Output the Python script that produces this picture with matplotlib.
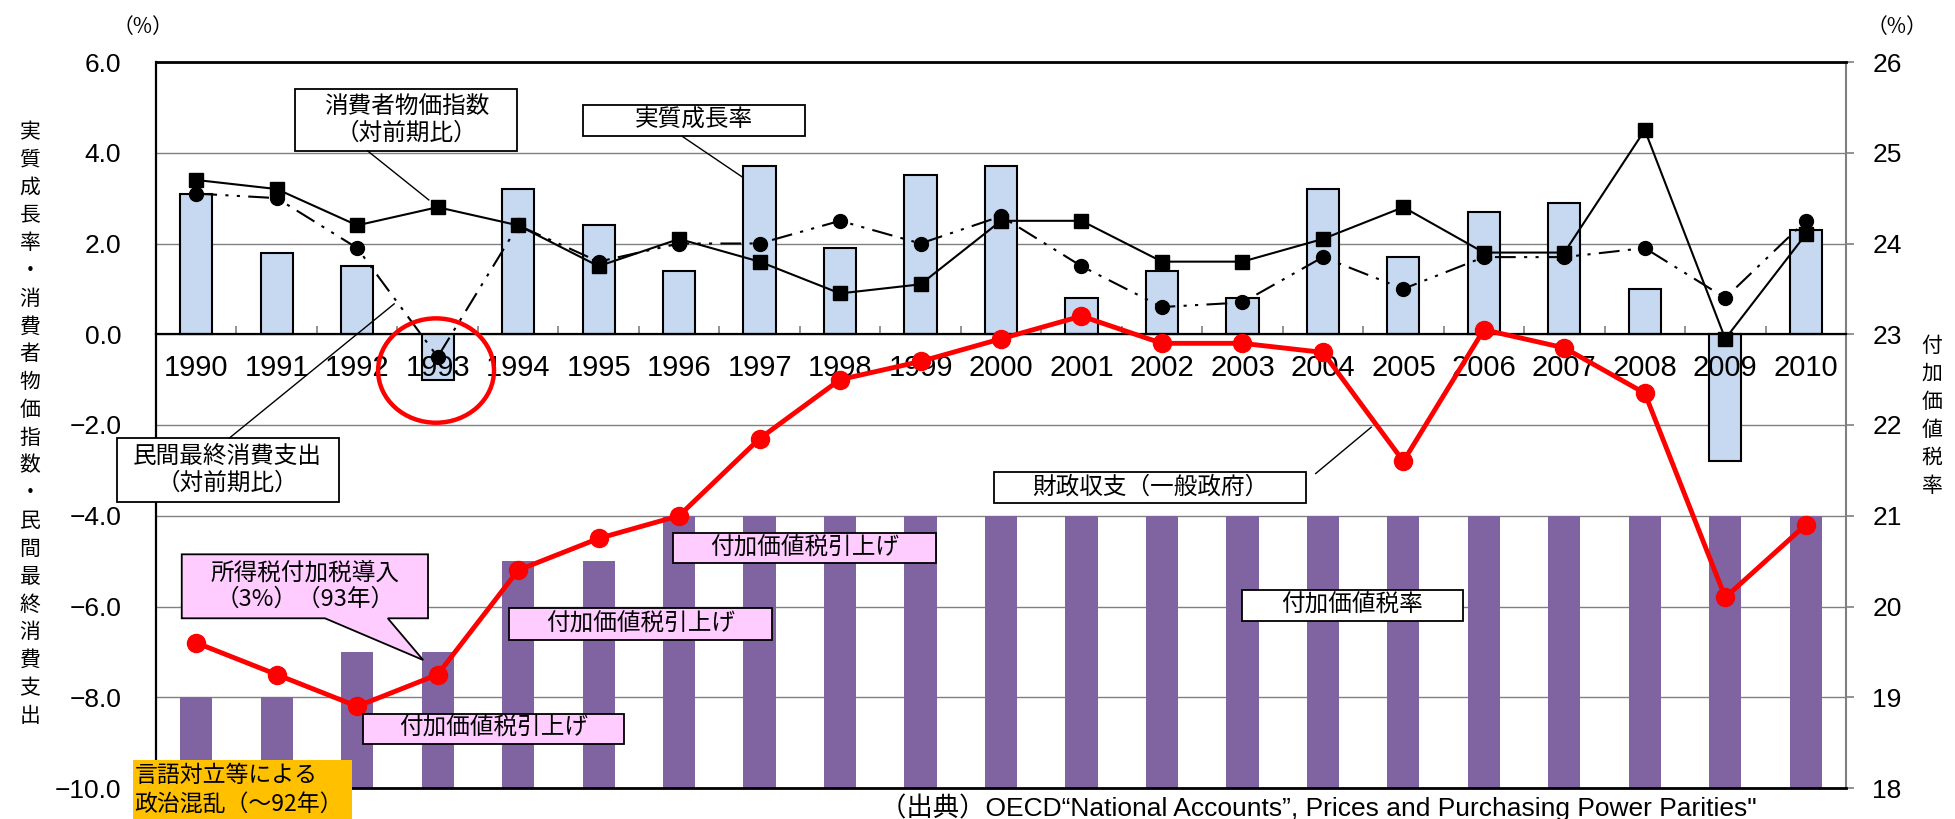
import matplotlib
matplotlib.use("Agg")
import matplotlib.pyplot as plt
import numpy as np
from matplotlib.patches import Rectangle, Polygon, Ellipse
from matplotlib.ticker import FuncFormatter

# ---- data (Belgium, 1990-2010, %) ----
years = list(range(1990, 2011))
real_growth = [3.1, 1.8, 1.5, -1.0, 3.2, 2.4, 1.4, 3.7, 1.9, 3.5, 3.7,
               0.8, 1.4, 0.8, 3.2, 1.7, 2.7, 2.9, 1.0, -2.8, 2.3]
cpi = [3.4, 3.2, 2.4, 2.8, 2.4, 1.5, 2.1, 1.6, 0.9, 1.1, 2.5,
       2.5, 1.6, 1.6, 2.1, 2.8, 1.8, 1.8, 4.5, -0.1, 2.2]
consumption = [3.1, 3.0, 1.9, -0.5, 2.4, 1.6, 2.0, 2.0, 2.5, 2.0, 2.6,
               1.5, 0.6, 0.7, 1.7, 1.0, 1.7, 1.7, 1.9, 0.8, 2.5]
fiscal_balance = [-6.8, -7.5, -8.2, -7.5, -5.2, -4.5, -4.0, -2.3, -1.0, -0.6, -0.1,
                  0.4, -0.2, -0.2, -0.4, -2.8, 0.1, -0.3, -1.3, -5.8, -4.2]
vat_rate = [19.0, 19.0, 19.5, 19.5, 20.5, 20.5, 21.0, 21.0, 21.0, 21.0, 21.0,
            21.0, 21.0, 21.0, 21.0, 21.0, 21.0, 21.0, 21.0, 21.0, 21.0]

left_ticks = [-10, -8, -6, -4, -2, 0, 2, 4, 6]
right_ticks = [18, 19, 20, 21, 22, 23, 24, 25, 26]

CJK = ["Noto Sans CJK JP", "DejaVu Sans"]
NARROW = ["Liberation Sans Narrow", "Liberation Sans", "Noto Sans CJK JP"]
LATIN = ["Liberation Sans", "DejaVu Sans"]

W, H = 1955, 819
fig = plt.figure(figsize=(W / 100, H / 100), dpi=100)
fig.patch.set_facecolor("white")


def fx(px):
    return px / W


def fy(py):
    return 1 - py / H


ax = fig.add_axes([fx(156), 31 / H, 1690 / W, 726 / H])
ax2 = ax.twinx()
ax.set_zorder(ax2.get_zorder() + 1)
ax.patch.set_visible(False)

x = np.arange(len(years))

# VAT rate bars on the right axis, behind everything else
ax2.bar(x, vat_rate, width=0.4, color="#8064A2", zorder=1)
ax2.set_ylim(18, 26)
ax2.set_yticks(right_ticks)
ax2.set_yticklabels([str(t) for t in right_ticks], fontsize=19, family=LATIN)
ax2.grid(axis="y", color="#808080", lw=1.0)
ax2.set_axisbelow(True)
ax2.tick_params(axis="y", direction="out", length=6, width=1.2, color="#808080", pad=13)

# real growth bars and the two rate lines on the left axis
ax.bar(x, real_growth, width=0.4, color="#C6D9F1", edgecolor="black", linewidth=1.5, zorder=1)
ax.plot(x, cpi, color="black", lw=1.5, marker="s", ms=10, zorder=3)
ax.plot(x, consumption, color="black", lw=1.5, ls=(0, (10, 4, 1.5, 4, 1.5, 4)),
        marker="o", ms=10, zorder=3)
ax.plot(x, fiscal_balance, color="#FF0000", lw=3.5, marker="o", ms=13, zorder=4)

ax.set_xlim(-0.5, len(years) - 0.5)
ax.set_ylim(-10, 6)
ax.set_yticks(left_ticks)
ax.yaxis.set_major_formatter(FuncFormatter(lambda v, p: f"{v:.1f}".replace("-", "\u2212")))
for lab in ax.get_yticklabels():
    lab.set_family(LATIN)
ax.tick_params(axis="y", length=0, pad=25, labelsize=19)

# year labels sit under the zero line, tick marks at category boundaries
ax.spines["bottom"].set_position(("data", 0))
ax.set_xticks(np.arange(-0.5, len(years), 1.0))
ax.set_xticklabels([])
ax.set_xticks(x, minor=True)
ax.set_xticklabels([str(y) for y in years], minor=True, fontsize=21, family=NARROW)
ax.tick_params(axis="x", which="major", direction="in", length=6, width=1.2, color="#808080")
ax.tick_params(axis="x", which="minor", length=0, pad=14)

ax.spines["right"].set_visible(False)
ax.spines["left"].set_linewidth(1.6)
ax.spines["top"].set_linewidth(2.0)
ax.spines["bottom"].set_linewidth(1.6)
ax2.spines["left"].set_visible(False)
ax2.spines["top"].set_visible(False)
ax2.spines["bottom"].set_linewidth(2.0)
ax2.spines["right"].set_color("#808080")
ax2.spines["right"].set_linewidth(1.5)


# ---- annotations ----
def box(x0, x1, ytop, ybot, face="white"):
    ax.add_patch(Rectangle((x0, ybot), x1 - x0, ytop - ybot, facecolor=face,
                           edgecolor="black", lw=1.3, clip_on=False, zorder=6))


def label(xc, yc, s, ha="center", size=17):
    ax.text(xc, yc, s, ha=ha, va="center", fontsize=size, family=CJK,
            zorder=7, clip_on=False)


def pointer(p0, p1):
    ax.plot([p0[0], p1[0]], [p0[1], p1[1]], color="black", lw=1.0,
            clip_on=False, zorder=6)


# consumer prices
box(1.23, 3.99, 5.41, 4.04)
label(2.61, 5.03, "消費者物価指数")
label(2.61, 4.43, "（対前期比）")
pointer((2.13, 4.04), (2.89, 2.96))

# real growth
box(4.81, 7.56, 5.06, 4.36)
label(6.185, 4.71, "実質成長率")
pointer((6.04, 4.36), (6.79, 3.46))

# private consumption
box(-0.99, 1.77, -2.29, -3.69)
label(0.39, -2.69, "民間最終消費支出")
label(0.39, -3.28, "（対前期比）")
pointer((0.41, -2.29), (2.46, 0.67))

# fiscal balance
box(9.91, 13.79, -3.03, -3.73)
label(11.85, -3.38, "財政収支（一般政府）")
pointer((13.91, -3.07), (14.6, -2.05))

# VAT rate
box(12.99, 15.74, -5.64, -6.32)
label(14.365, -5.98, "付加価値税率")

# VAT increases
for (x0, x1, yt, yb) in [(2.07, 5.32, -8.36, -9.02),
                         (3.89, 7.16, -6.04, -6.74),
                         (5.93, 9.19, -4.37, -5.05)]:
    box(x0, x1, yt, yb, face="#FFCCFF")
    label((x0 + x1) / 2, (yt + yb) / 2, "付加価値税引上げ")

# income surtax callout
cx0, cx1, cyt, cyb = -0.18, 2.88, -4.85, -6.26
ax.add_patch(Polygon([(cx0, cyt), (cx1, cyt), (cx1, cyb), (2.38, cyb), (2.82, -7.18),
                      (1.60, cyb), (cx0, cyb)], closed=True, facecolor="#FFCCFF",
                     edgecolor="black", lw=1.3, clip_on=False, zorder=6))
label((cx0 + cx1) / 2, -5.26, "所得税付加税導入")
label((cx0 + cx1) / 2, -5.84, "（3%）（93年）")

# political turmoil note
ax.add_patch(Rectangle((-0.79, -10.75), 2.72, 1.375, facecolor="#FFC000",
                       edgecolor="none", clip_on=False, zorder=6))
label(-0.77, -9.72, "言語対立等による", ha="left", size=16.5)
label(-0.77, -10.35, "政治混乱（～92年）", ha="left", size=16.5)

# highlight 1993
ax.add_patch(Ellipse((2.98, -0.8), 1.44, 2.3, fill=False, edgecolor="#FF0000",
                     lw=3.2, clip_on=False, zorder=6))

# ---- axis titles ----
fig.text(fx(143), fy(27), "（%）", ha="center", va="center", fontsize=15, family=CJK)
fig.text(fx(1897), fy(27), "（%）", ha="center", va="center", fontsize=15, family=CJK)

left_title = "実質成長率・消費者物価指数・民間最終消費支出"
for i, ch in enumerate(left_title):
    fig.text(fx(30), fy(132 + i * 27.8), ch, ha="center", va="center",
             fontsize=15, family=CJK)

right_title = "付加価値税率"
for i, ch in enumerate(right_title):
    fig.text(fx(1932), fy(346 + i * 28), ch, ha="center", va="center",
             fontsize=15, family=CJK)

fig.text(fx(880), fy(816), "（出典）OECD“National Accounts”, Prices and Purchasing Power Parities\"",
         ha="left", va="baseline", fontsize=19, family=NARROW)

fig.savefig("out.png", dpi=100, facecolor="white")
